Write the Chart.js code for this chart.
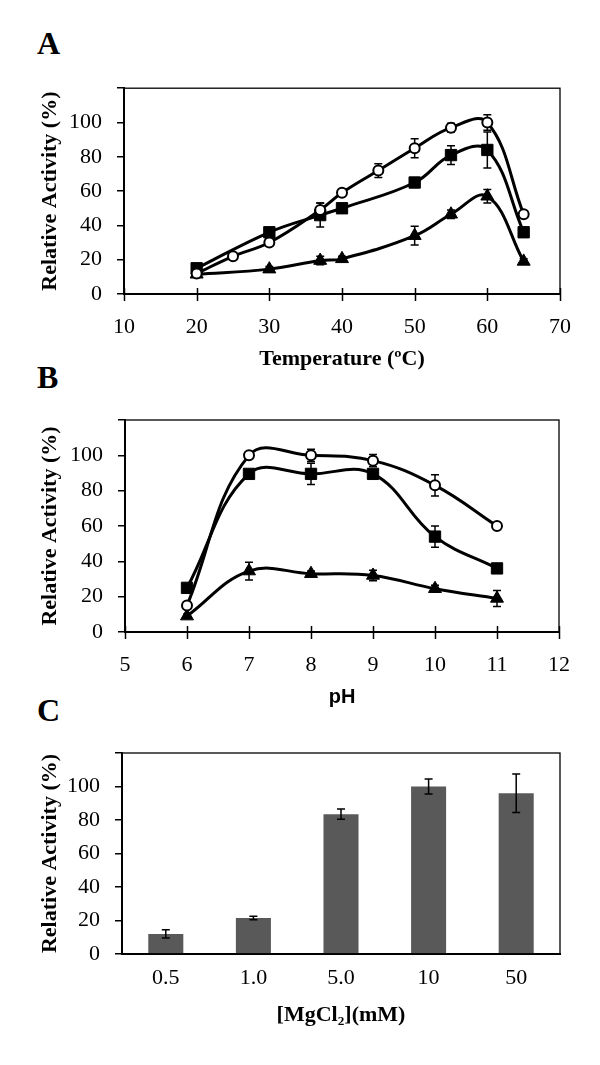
<!DOCTYPE html>
<html>
<head>
<meta charset="utf-8">
<script src="https://cdn.jsdelivr.net/npm/chart.js@4"></script>
<style>
  body { margin: 0; background: #fff; }
  #wrap { position: relative; width: 600px; height: 1065px; overflow: hidden; }
  #wrap canvas { position: absolute; left: 0; }
  .panel-letter { position: absolute; left: 37px; font: bold 32px 'Liberation Serif', 'Times New Roman', serif; line-height: 32px; color: #000; }
</style>
</head>
<body>
<div id="wrap">
  <div class="panel-letter" style="top:27px">A</div>
  <div class="panel-letter" style="top:361px">B</div>
  <div class="panel-letter" style="top:694px">C</div>
  <canvas id="chart-temp" width="600" height="320" style="top:60px"></canvas>
  <canvas id="chart-ph" width="600" height="330" style="top:380px"></canvas>
  <canvas id="chart-mg" width="600" height="355" style="top:710px"></canvas>
</div>
<script>
/* ---- data ---- */
// A: temperature
const tempCircleX = [20, 25, 30, 37, 40, 45, 50, 55, 60, 65];
const tempCircleY = [12, 22, 30, 49, 59, 72, 85, 97, 100, 46.5];
const tempCircleErr = [1, 1.5, 2, 4, 2, 4, 5.5, 2.5, 4.5, 1.5];
const tempSquareX = [20, 30, 37, 40, 50, 55, 60, 65];
const tempSquareY = [15, 36, 46, 50, 65, 81, 84, 36];
const tempSquareErr = [1, 2, 7, 2, 1.5, 5.5, 10.5, 2];
const tempTriX = [20, 30, 37, 40, 50, 55, 60, 65];
const tempTriY = [11.5, 14.5, 19.5, 20.5, 34, 46.5, 57, 19];
const tempTriErr = [1, 1.5, 2.5, 1.5, 5.5, 2.5, 4, 1.5];

// B: pH
const phX = [6, 7, 8, 9, 10, 11];
const phCircleY = [15, 100, 100, 97, 83, 60];
const phCircleErr = [2, 2, 3.5, 3.5, 6, 1.5];
const phSquareY = [25, 89.5, 89.5, 89.5, 54, 36];
const phSquareErr = [1.5, 2, 6, 2, 6, 1.5];
const phTriY = [9, 34.5, 33, 32, 24.5, 19];
const phTriErr = [1, 5, 1.5, 3, 2, 4.5];

// C: MgCl2
const mgLabels = ['0.5', '1.0', '5.0', '10', '50'];
const mgValues = [12, 21.5, 83.5, 100, 96];
const mgErr = [2.5, 1, 3, 4.5, 11.5];

const yTicksMax = 120;
const SERIF = "'Liberation Serif', 'Times New Roman', serif";
const SANS = "'Liberation Sans', Arial, sans-serif";

/* ---- helpers ---- */
function drawErrorBars(chart) {
    const ctx = chart.ctx, ys = chart.scales.y;
    ctx.save();
    ctx.strokeStyle = '#000';
    ctx.lineWidth = 1.5;
    chart.data.datasets.forEach((ds, i) => {
        if (!ds.errors) return;
        chart.getDatasetMeta(i).data.forEach((el, j) => {
            const e = ds.errors[j];
            if (!e) return;
            const v = typeof ds.data[j] === 'object' ? ds.data[j].y : ds.data[j];
            const t = ys.getPixelForValue(v + e), b = ys.getPixelForValue(v - e);
            ctx.beginPath();
            ctx.moveTo(el.x, t); ctx.lineTo(el.x, b);
            ctx.moveTo(el.x - 4, t); ctx.lineTo(el.x + 4, t);
            ctx.moveTo(el.x - 4, b); ctx.lineTo(el.x + 4, b);
            ctx.stroke();
        });
    });
    ctx.restore();
}

const figurePlugin = {
    id: 'figure',
    beforeDatasetsDraw(chart) { if (chart.config.type !== 'bar') drawErrorBars(chart); },
    afterDatasetsDraw(chart) { if (chart.config.type === 'bar') drawErrorBars(chart); },
    afterDraw(chart, args, opts) {
        const { ctx, chartArea: a } = chart;
        ctx.save();
        ctx.strokeStyle = '#000';
        ctx.lineWidth = 1.3;
        ctx.strokeRect(a.left, a.top, a.right - a.left, a.bottom - a.top);
        if (opts.crossTicks) {
            const xs = chart.scales.x;
            ctx.lineWidth = 1.5;
            xs.ticks.forEach(t => {
                const px = Math.round(xs.getPixelForValue(t.value)) + 0.5;
                ctx.beginPath();
                ctx.moveTo(px, a.bottom - 6);
                ctx.lineTo(px, a.bottom + 7);
                ctx.stroke();
            });
        }
        ctx.restore();
    }
};

function yAxis(width, titlePad) {
    return {
        min: 0, max: yTicksMax,
        ticks: { stepSize: 20, padding: 15, color: '#000', font: { family: SERIF, size: 22 },
                 callback: v => v === yTicksMax ? '' : v },
        grid: { drawOnChartArea: false, drawTicks: true, tickLength: 7, color: '#000', lineWidth: 1.5 },
        border: { display: true, color: '#000', width: 2 },
        title: { display: true, text: 'Relative Activity (%)', color: '#000',
                 font: { family: SERIF, size: 22, weight: 'bold', lineHeight: 1.2 }, padding: { top: titlePad, bottom: 0 } },
        afterFit(s) { s.width = width; }
    };
}

function xLinear(min, max, height, labelPad, title, titleFont, titlePad) {
    return {
        type: 'linear', min, max,
        ticks: { stepSize: (max - min > 10 ? 10 : 1), padding: labelPad, color: '#000', font: { family: SERIF, size: 22 } },
        grid: { display: false, drawTicks: false },
        border: { display: true, color: '#000', width: 2 },
        title: { display: true, text: title, color: '#000', font: titleFont, padding: { top: 0, bottom: titlePad } },
        afterFit(s) { s.height = height; }
    };
}

function lineSet(xs, ys, errs, style, r, fill, bw) {
    return {
        data: xs.map((x, i) => ({ x, y: ys[i] })),
        errors: errs,
        borderColor: '#000', borderWidth: 3, tension: 0.4,
        pointStyle: style, pointRadius: r,
        pointBackgroundColor: fill, pointBorderColor: '#000', pointBorderWidth: bw
    };
}

const basePlugins = { legend: { display: false }, tooltip: { enabled: false } };

/* ---- A: temperature ---- */
new Chart(document.getElementById('chart-temp'), {
    type: 'line',
    data: { datasets: [
        lineSet(tempCircleX, tempCircleY, tempCircleErr, 'circle', 5, '#fff', 2),
        lineSet(tempSquareX, tempSquareY, tempSquareErr, 'rect', 8, '#000', 1),
        lineSet(tempTriX, tempTriY, tempTriErr, 'triangle', 7.5, '#000', 1)
    ] },
    options: {
        responsive: false, animation: false,
        layout: { padding: { top: 24, right: 40, left: 0, bottom: 0 } },
        scales: {
            x: xLinear(10, 70, 86, 20, 'Temperature (ºC)', { family: SERIF, size: 22, weight: 'bold', lineHeight: 1.2 }, 7),
            y: yAxis(124, 37)
        },
        plugins: { ...basePlugins, figure: { crossTicks: true } }
    },
    plugins: [figurePlugin]
});

/* ---- B: pH ---- */
new Chart(document.getElementById('chart-ph'), {
    type: 'line',
    data: { datasets: [
        lineSet(phX, phCircleY, phCircleErr, 'circle', 5, '#fff', 2),
        lineSet(phX, phSquareY, phSquareErr, 'rect', 8, '#000', 1),
        lineSet(phX, phTriY, phTriErr, 'triangle', 7.5, '#000', 1)
    ] },
    options: {
        responsive: false, animation: false,
        layout: { padding: { top: 40, right: 41, left: 0, bottom: 0 } },
        scales: {
            x: xLinear(5, 12, 78, 20, 'pH', { family: SANS, size: 20, weight: 'bold', lineHeight: 1.2 }, 1),
            y: yAxis(125, 37)
        },
        plugins: { ...basePlugins, figure: { crossTicks: true } }
    },
    plugins: [figurePlugin]
});

/* ---- C: MgCl2 ---- */
new Chart(document.getElementById('chart-mg'), {
    type: 'bar',
    data: { labels: mgLabels, datasets: [{
        data: mgValues, errors: mgErr,
        backgroundColor: '#595959', barPercentage: 0.4, categoryPercentage: 1
    }] },
    options: {
        responsive: false, animation: false,
        layout: { padding: { top: 43, right: 40, left: 0, bottom: 0 } },
        scales: {
            x: {
                ticks: { padding: 11, color: '#000', font: { family: SERIF, size: 22 } },
                grid: { display: false, drawTicks: false },
                border: { display: true, color: '#000', width: 2 },
                title: { display: true, text: '[MgCl₂](mM)', color: '#000',
                         font: { family: SERIF, size: 22, weight: 'bold', lineHeight: 1.2 }, padding: { top: 0, bottom: 36 } },
                afterFit(s) { s.height = 111; }
            },
            y: yAxis(122, 37)
        },
        plugins: { ...basePlugins, figure: { crossTicks: false } }
    },
    plugins: [figurePlugin]
});
</script>
</body>
</html>
